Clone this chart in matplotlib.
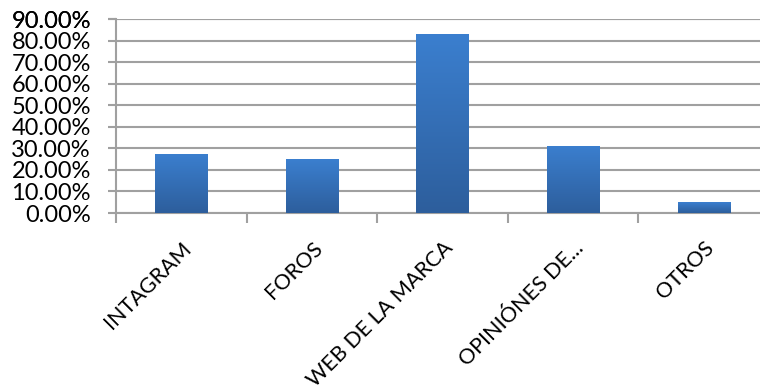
import numpy as np
import matplotlib.pyplot as plt
from matplotlib.ticker import FuncFormatter, FixedLocator

categories = ["INTAGRAM", "FOROS", "WEB DE LA MARCA", "OPINIÓNES DE...", "OTROS"]
values = [0.274, 0.250, 0.830, 0.311, 0.051]
yticks = [i / 10 for i in range(10)]

plt.rcParams['font.family'] = ['Lato', 'DejaVu Sans']

fig = plt.figure(figsize=(7.6, 3.91), dpi=100)
ax = fig.add_axes([116 / 760, 1 - 213 / 391, 653 / 760, 194 / 391])

x = np.arange(len(categories))
bars = ax.bar(x, values, width=0.40, color='#3571bd', zorder=3)

# vertical gradient on each bar
grad = np.linspace(0, 1, 256).reshape(-1, 1)
cmap = plt.matplotlib.colors.LinearSegmentedColormap.from_list('g', ['#2d5e9c', '#3b7fcf'])
for b in bars:
    x0, y0 = b.get_x(), b.get_y()
    w, h = b.get_width(), b.get_height()
    im = ax.imshow(grad, extent=[x0, x0 + w, y0, y0 + h], origin='lower',
                   cmap=cmap, aspect='auto', zorder=4)
    im.set_clip_path(b)

ax.set_xlim(-0.5, len(categories) - 0.5)
ax.set_ylim(0, 0.9)
ax.set_yticks(yticks + [0.9])
ax.yaxis.set_major_formatter(FuncFormatter(lambda v, p: f"{v * 100:.2f}%"))
ax.grid(axis='y', color='#a0a0a0', lw=1.5, zorder=0)

ax.set_xticks(x)
ax.set_xticklabels(categories, rotation=45, ha='right', rotation_mode='anchor')
ax.xaxis.set_minor_locator(FixedLocator(np.arange(-0.5, len(categories), 1.0)))
ax.tick_params(axis='x', which='major', length=0, pad=18, labelsize=15.5)
ax.tick_params(axis='x', which='minor', length=7, width=1.5, color='#a0a0a0')
ax.tick_params(axis='y', length=6, width=1.5, color='#a0a0a0', labelsize=17, pad=12)

for s in ['top', 'right']:
    ax.spines[s].set_visible(False)
for s in ['left', 'bottom']:
    ax.spines[s].set_color('#a0a0a0')
    ax.spines[s].set_linewidth(1.5)

fig.savefig('out.png', dpi=100)
